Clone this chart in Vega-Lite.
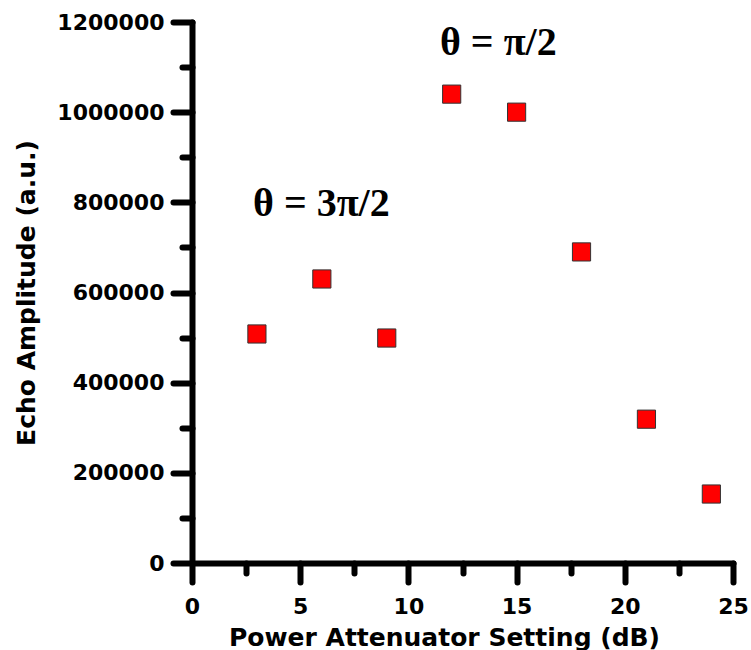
{
  "$schema": "https://vega.github.io/schema/vega-lite/v6.json",
  "width": 541,
  "height": 541,
  "autosize": "none",
  "padding": {"left": 192, "top": 22, "right": 18, "bottom": 87},
  "background": "white",
  "config": {"view": {"stroke": null}},
  "layer": [
    {
      "data": {"values": [
        {"attenuation": 3, "amplitude": 508000},
        {"attenuation": 6, "amplitude": 630000},
        {"attenuation": 9, "amplitude": 499000},
        {"attenuation": 12, "amplitude": 1040000},
        {"attenuation": 15, "amplitude": 1000000},
        {"attenuation": 18, "amplitude": 690000},
        {"attenuation": 21, "amplitude": 319000},
        {"attenuation": 24, "amplitude": 153000}
      ]},
      "mark": {"type": "point", "shape": "square", "filled": true, "size": 330, "color": "#ff0000", "stroke": "#333333", "strokeWidth": 1, "opacity": 1},
      "encoding": {
        "x": {
          "field": "attenuation", "type": "quantitative",
          "scale": {"domain": [0, 25], "nice": false, "zero": false},
          "axis": {
            "title": "Power Attenuator Setting (dB)",
            "values": [0, 2.5, 5, 7.5, 10, 12.5, 15, 17.5, 20, 22.5, 25],
            "labelExpr": "datum.value % 5 === 0 ? datum.label : ''",
            "tickSize": {"expr": "datum.value % 5 === 0 ? 19 : 10"},
            "tickWidth": 6, "tickColor": "black", "tickCap": "round",
            "domainWidth": 6, "domainColor": "black", "domainCap": "round",
            "grid": false,
            "labelFont": "DejaVu Sans", "labelFontWeight": "bold", "labelFontSize": 22, "labelColor": "black",
            "labelPadding": 14, "labelFlush": false, "labelOverlap": false,
            "titleFont": "DejaVu Sans", "titleFontWeight": "bold", "titleFontSize": 25, "titleColor": "black",
            "titlePadding": 8, "titleX": 252
          }
        },
        "y": {
          "field": "amplitude", "type": "quantitative",
          "scale": {"domain": [0, 1200000], "nice": false, "zero": false},
          "axis": {
            "title": "Echo Amplitude (a.u.)",
            "values": [0, 100000, 200000, 300000, 400000, 500000, 600000, 700000, 800000, 900000, 1000000, 1100000, 1200000],
            "format": "d",
            "labelExpr": "datum.value % 200000 === 0 ? datum.label : ''",
            "tickSize": {"expr": "datum.value % 200000 === 0 ? 19 : 10"},
            "tickWidth": 6, "tickColor": "black", "tickCap": "round",
            "domainWidth": 6, "domainColor": "black", "domainCap": "round",
            "grid": false,
            "labelFont": "DejaVu Sans", "labelFontWeight": "bold", "labelFontSize": 22, "labelColor": "black",
            "labelPadding": 9, "labelFlush": false, "labelOverlap": false,
            "titleFont": "DejaVu Sans", "titleFontWeight": "bold", "titleFontSize": 25, "titleColor": "black",
            "titlePadding": 17
          }
        }
      }
    },
    {
      "data": {"values": [
        {"attenuation": 11.46, "amplitude": 1127000, "label": "θ = π/2"},
        {"attenuation": 2.82, "amplitude": 770000, "label": "θ = 3π/2"}
      ]},
      "mark": {"type": "text", "align": "left", "baseline": "alphabetic", "font": "Liberation Serif", "fontWeight": "bold", "fontSize": 40, "color": "black"},
      "encoding": {
        "x": {"field": "attenuation", "type": "quantitative"},
        "y": {"field": "amplitude", "type": "quantitative"},
        "text": {"field": "label"}
      }
    }
  ]
}
